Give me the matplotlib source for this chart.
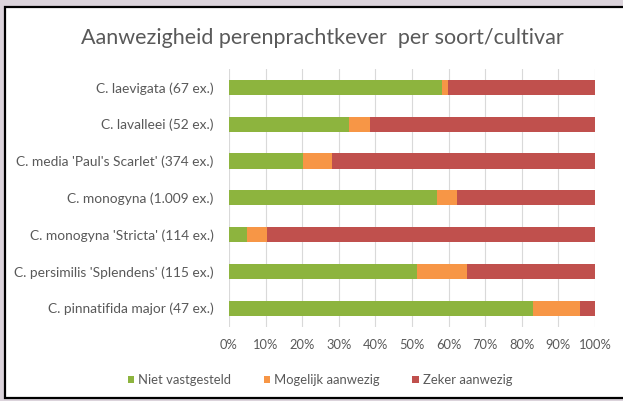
import matplotlib
matplotlib.use('Agg')
import matplotlib.pyplot as plt
from matplotlib.patches import Rectangle
from matplotlib.ticker import PercentFormatter
import numpy as np

plt.rcParams['font.family'] = ['Lato', 'DejaVu Sans']

# gegevens (percentages per soort/cultivar)
soorten = [
    "C. laevigata (67 ex.)",
    "C. lavalleei (52 ex.)",
    "C. media 'Paul's Scarlet' (374 ex.)",
    "C. monogyna (1.009 ex.)",
    "C. monogyna 'Stricta' (114 ex.)",
    "C. persimilis 'Splendens' (115 ex.)",
    "C. pinnatifida major (47 ex.)",
]
niet_vastgesteld = [58.2, 32.7, 20.3, 56.7, 4.8, 51.3, 83.0]
mogelijk = [1.5, 5.8, 7.9, 5.7, 5.5, 13.6, 12.8]
zeker = [40.3, 61.5, 71.8, 37.6, 89.7, 35.1, 4.2]

reeksen = ["Niet vastgesteld", "Mogelijk aanwezig", "Zeker aanwezig"]
kleuren = ["#8db43e", "#f79646", "#c0504d"]

fig = plt.figure(figsize=(6.23, 4.01), dpi=100)
fig.patch.set_facecolor('#dbd3db')
# witte kader met zwarte rand
fig.patches.append(Rectangle((5 / 623, 3 / 401), 1.0, 1 - 9.5 / 401,
                             transform=fig.transFigure, facecolor='white',
                             edgecolor='black', linewidth=1.6, zorder=-5))

ax = fig.add_axes([229 / 623, 1 - 326.5 / 401, 366 / 623, 257.5 / 401])
ax.set_facecolor('none')

y = np.arange(len(soorten))
links = np.zeros(len(soorten))
for waarden, naam, kleur in zip([niet_vastgesteld, mogelijk, zeker], reeksen, kleuren):
    ax.barh(y, waarden, left=links, height=0.41, color=kleur, label=naam, zorder=3)
    links += np.array(waarden)

ax.set_xlim(0, 100)
ax.set_ylim(len(soorten) - 0.5, -0.5)
ax.set_yticks(y)
ax.set_yticklabels(soorten, fontsize=9.9, color='#595959')
ax.set_xticks(np.arange(0, 101, 10))
ax.xaxis.set_major_formatter(PercentFormatter(decimals=0))
ax.tick_params(axis='x', labelsize=9.3, colors='#595959', length=0, pad=9)
ax.tick_params(axis='y', length=0, pad=11)
ax.grid(axis='x', color='#d9d9d9', linewidth=0.8, zorder=0)
for s in ax.spines.values():
    s.set_visible(False)

fig.text(0.518, 1 - 38 / 401, "Aanwezigheid perenprachtkever  per soort/cultivar",
         ha='center', va='center', fontsize=15.5, color='#595959')

ax.legend(loc='center', bbox_to_anchor=(320 / 623, 1 - 380 / 401),
          bbox_transform=fig.transFigure, ncol=3, frameon=False, fontsize=9.4,
          labelcolor='#595959', handlelength=0.5, handleheight=0.5,
          handletextpad=0.3, columnspacing=2.5)

fig.savefig('out.png', dpi=100, facecolor=fig.get_facecolor())
